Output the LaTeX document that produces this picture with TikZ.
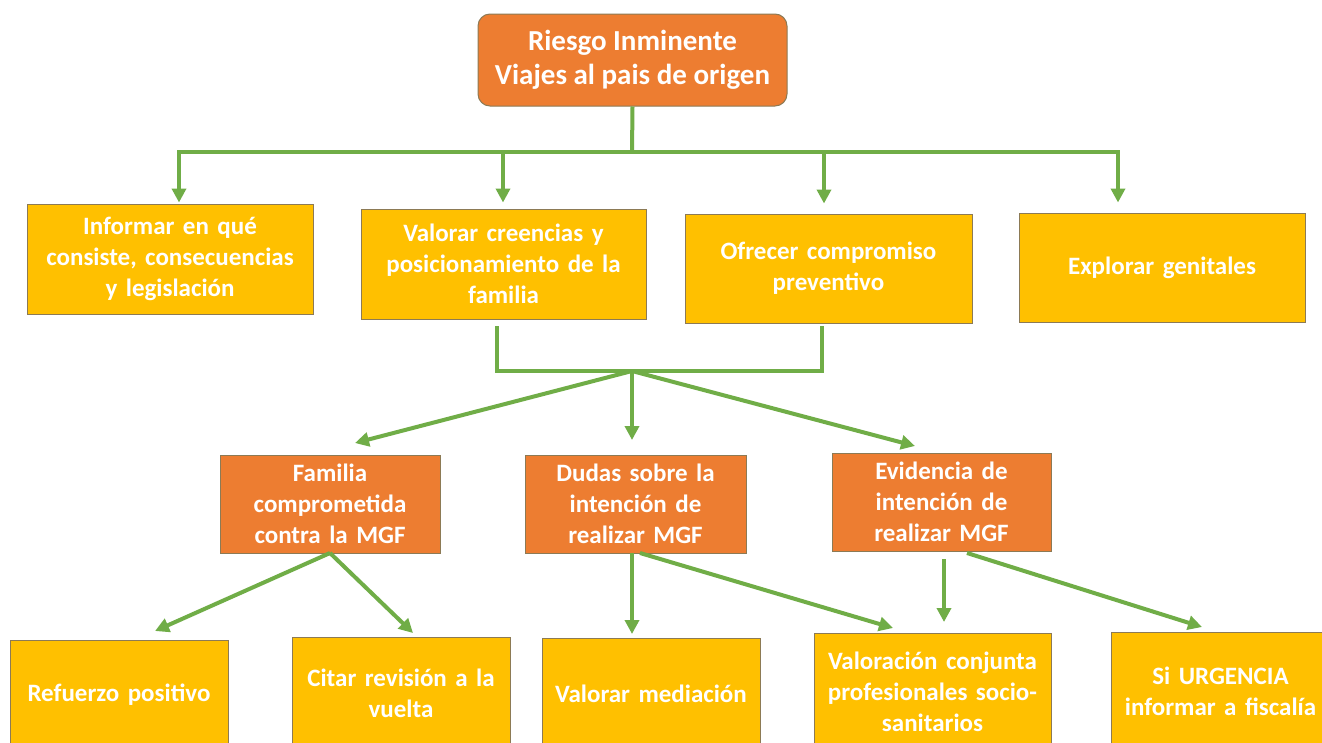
\documentclass[tikz,border=0pt]{standalone}
\usepackage{fontspec}
\setmainfont{Carlito}[WordSpace=1.5]
\newfontfamily\topfont{Carlito}
\usetikzlibrary{arrows.meta,calc}
\definecolor{ora}{HTML}{ED7D31}
\definecolor{yel}{HTML}{FFC000}
\definecolor{grn}{HTML}{70AD47}
\definecolor{bord}{HTML}{8C7A55}
\tikzset{
  box/.style={draw=bord,line width=1pt,inner sep=0pt,align=center,text=white,
    font=\fontsize{25}{31}\selectfont\bfseries},
  ybox/.style={box,fill=yel},
  obox/.style={box,fill=ora},
  link/.style={draw=grn,line width=4pt},
  arr/.style={link,-{Triangle[length=14pt,width=14pt]}}
}
\begin{document}
\begin{tikzpicture}[x=1pt,y=-1pt]
\useasboundingbox (0,0) rectangle (1322,742);
\clip (0,0) rectangle (1322,742);
\fill[white] (0,0) rectangle (1322,742);
% top
\node[box,fill=ora,rounded corners=12pt,minimum width=309pt,minimum height=92pt,
  font=\topfont\fontsize{29}{34}\selectfont\bfseries] (top) at (632.5,60) {Riesgo Inminente\\Viajes al pais de origen};
% row 1
\node[ybox,minimum width=286pt,minimum height=110pt] (A) at (170,259) {Informar en qué\\consiste, consecuencias\\y legislación};
\node[ybox,minimum width=285pt,minimum height=110pt] (B) at (503.5,264) {Valorar creencias y\\posicionamiento de la\\familia};
\node[ybox,minimum width=287pt,minimum height=109pt] (C) at (828.5,268.5) {Ofrecer compromiso\\preventivo};
\node[ybox,minimum width=286pt,minimum height=109pt] (D) at (1162,267.5) {Explorar genitales};
% row 2
\node[obox,minimum width=220pt,minimum height=98pt] (E) at (330,504) {Familia\\comprometida\\contra la MGF};
\node[obox,minimum width=221pt,minimum height=98pt] (F) at (635.5,504) {Dudas sobre la\\intención de\\realizar MGF};
\node[obox,minimum width=219pt,minimum height=98pt] (G) at (941.5,502) {Evidencia de\\intención de\\realizar MGF};
% row 3
\node[ybox,minimum width=218pt,minimum height=110pt] (H) at (119,695) {Refuerzo positivo};
\node[ybox,minimum width=218pt,minimum height=113pt] (I) at (401,693.5) {Citar revisión a la\\vuelta};
\node[ybox,minimum width=218pt,minimum height=112pt] (J) at (651,694) {Valorar mediación};
\node[ybox,minimum width=237pt,minimum height=117pt] (K) at (932.5,691.5) {Valoración conjunta\\profesionales socio-\\sanitarios};
\node[ybox,minimum width=219pt,minimum height=118pt] (L) at (1220.5,691) {Si URGENCIA\\informar a fiscalía};
% coordinates
\coordinate (bus) at (632,152);
\coordinate (xA) at (179,0);
\coordinate (xB) at (503,0);
\coordinate (xC) at (824,0);
\coordinate (xD) at (1118,0);
\coordinate (b1) at (497,326);
\coordinate (c1) at (822,326);
\coordinate (hub) at (632,371);
\coordinate (tE) at (355,443);
\coordinate (tF) at (632,440);
\coordinate (tG) at (915,446);
\coordinate (sE) at (330,553);
\coordinate (tH) at (155,631);
\coordinate (tI) at (413,633);
\coordinate (sF) at (632,553);
\coordinate (sF2) at (640,553);
\coordinate (tJ) at (632,634);
\coordinate (tK) at (893,628);
\coordinate (sG) at (944,559);
\coordinate (tK2) at (944,622);
\coordinate (sG2) at (967,553);
\coordinate (tL) at (1202,627);
% connectors
\draw[link] (top.south) -- (bus);
\draw[arr] (bus) -| ($(xA |- A.north)+(0,-1)$);
\draw[arr] (bus) -| ($(xB |- B.north)+(0,-6)$);
\draw[arr] (bus) -| ($(xC |- C.north)+(0,-10)$);
\draw[arr] (bus) -| ($(xD |- D.north)+(0,-10)$);
\draw[link] (b1) -- (b1 |- hub) -- (c1 |- hub) -- (c1);
\draw[arr] (hub) -- (tE);
\draw[arr] (hub) -- (tF);
\draw[arr] (hub) -- (tG);
\draw[arr] (sE) -- (tH);
\draw[arr] (sE) -- (tI);
\draw[arr] (sF) -- (tJ);
\draw[arr] (sF2) -- (tK);
\draw[arr] (sG) -- (tK2);
\draw[arr] (sG2) -- (tL);
\end{tikzpicture}
\end{document}
